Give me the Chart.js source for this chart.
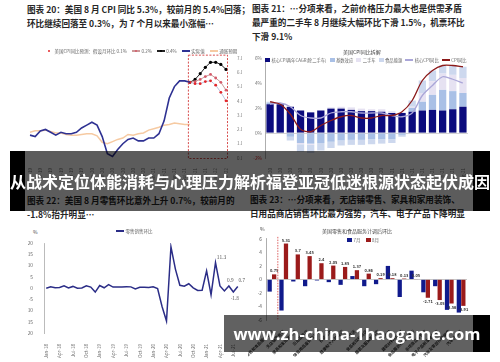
<!DOCTYPE html>
<html>
<head>
<meta charset="utf-8">
<script src="https://cdn.jsdelivr.net/npm/chart.js@4.4.0/dist/chart.umd.min.js"></script>
<style>
body{margin:0;width:500px;height:362px;overflow:hidden;background:#fff;position:relative;font-family:"Noto Sans CJK SC","Noto Sans",sans-serif;}
canvas{position:absolute}
.title{position:absolute;font-size:8.6px;font-weight:700;color:#262626;line-height:14px;white-space:nowrap}
.lg{position:absolute;font-size:4.5px;color:#666;white-space:nowrap;display:flex;align-items:center;line-height:6px}
.lg span.it{display:flex;align-items:center;margin-right:5px}
.sq{display:inline-block;width:5px;height:3.5px;margin-right:1.5px}
.ln{display:inline-block;width:8px;height:1.2px;margin-right:1.5px;position:relative}
.dt{position:absolute;left:2.8px;top:-0.9px;width:2.4px;height:2.4px;border-radius:50%}
.ctitle{position:absolute;font-size:5px;color:#444;white-space:nowrap}
.band{position:absolute}
</style>
</head>
<body>

<div class="title" style="left:27px;top:2px">图表 20：美国 8 月 CPI 同比 5.3%，较前月的 5.4%回落；<br>环比继续回落至 0.3%，为 7 个月以来最小涨幅…</div>
<div class="title" style="left:252px;top:1px">图表 21：…分项来看，之前价格压力最大也是供需矛盾<br>最严重的二手车 8 月继续大幅环比下滑 1.5%，机票环比<br>下滑 9.1%</div>
<div class="title" style="left:27px;top:193px">图表 22：美国 8 月零售环比意外上升 0.7%，较前月的<br>-1.8%抬升明显…</div>
<div class="title" style="left:250px;top:192px">图表 23：…分项来看，无店铺零售、家具和家用装饰、<br>日用品商店销售环比最为强势，汽车、电子产品下降明显</div>

<canvas id="c20" width="218" height="130" style="left:26px;top:50px"></canvas>
<canvas id="c21" width="222" height="128" style="left:250px;top:50px"></canvas>
<canvas id="c22" width="222" height="124" style="left:24px;top:236px"></canvas>
<canvas id="c23" width="224" height="128" style="left:248px;top:232px"></canvas>

<div class="lg" style="left:45px;top:48px">
  <span class="it"><span class="ln" style="background:transparent"><span class="dt" style="background:#e3262a"></span></span>美国CPI同比预测：假设月环比 0.1%</span>
  <span class="it"><span class="ln" style="background:#c99"><span class="dt" style="background:#d45a6a"></span></span>0.2%</span>
  <span class="it"><span class="ln" style="background:#222"><span class="dt" style="background:#000"></span></span>0.4%</span>
  <span class="it"><span class="ln" style="background:#2e3192;height:1.5px"></span>实际值</span>
  <span class="it"><span class="ln" style="background:#f6caa2;height:1.5px"></span>通胀预期</span>
</div>

<div class="ctitle" style="left:343px;top:48px">美国CPI同比拆解</div>
<div class="lg" style="left:265px;top:57px;font-size:4.3px">
  <span class="it" style="margin-right:3px"><span class="sq" style="background:#0b0b7d"></span>核心CPI两年CAGR(除二手车)</span>
  <span class="it" style="margin-right:3px"><span class="sq" style="background:#a9c0e6"></span>基数效应</span>
  <span class="it" style="margin-right:3px"><span class="sq" style="background:#e6e2f2"></span>二手车</span>
  <span class="it" style="margin-right:3px"><span class="sq" style="background:#cdd8ee"></span>食品能源</span>
  <span class="it" style="margin-right:3px"><span class="ln" style="background:#aaa6d8"></span>核心CPI同比</span>
  <span class="it" style="margin-right:0"><span class="ln" style="background:#8b1a1a"></span>CPI同比</span>
</div>

<div class="ctitle" style="left:33px;top:228px">%</div>
<div class="lg" style="left:116px;top:228px"><span class="it"><span class="ln" style="background:#2b2d87;height:1.5px"></span>零售销售环比</span></div>

<div class="ctitle" style="left:260px;top:225px">%</div>
<div class="ctitle" style="left:322px;top:227px">美国零售和食品服务计调后环比</div>
<div class="lg" style="left:347px;top:237px">
  <span class="it"><span class="sq" style="background:#101a8c"></span>7月</span>
  <span class="it"><span class="sq" style="background:#9b1b1b"></span>8月</span>
</div>

<div class="band" style="left:10px;top:151px;width:15px;height:60px;background:#000"></div>
<div class="band" style="left:25px;top:151px;width:448px;height:60px;background:rgba(0,0,0,0.64)"></div>
<div class="band" style="left:473px;top:151px;width:17px;height:60px;background:#000"></div>
<div class="band" style="left:10px;top:151px;width:480px;height:60px;color:#fff;font-size:16px;font-weight:700;line-height:60px;text-align:center;white-space:nowrap;letter-spacing:0">从战术定位体能消耗与心理压力解析福登亚冠低迷根源状态起伏成因</div>

<div class="band" style="left:224px;top:315px;width:249px;height:37px;background:rgba(0,0,0,0.62)"></div>
<div class="band" style="left:473px;top:315px;width:17px;height:37px;background:#000"></div>
<div class="band" style="left:224px;top:315px;width:266px;height:37px;color:#fff;font-family:'Open Sans',sans-serif;font-size:16.5px;font-weight:700;line-height:37px;text-align:center;white-space:nowrap">www.zh-china-1haogame.com</div>

<script>
// ---------- 图表 20 ----------
const months20 = ['Jan-19','Feb-19','Mar-19','Apr-19','May-19','Jun-19','Jul-19','Aug-19','Sep-19','Oct-19','Nov-19','Dec-19',
  'Jan-20','Feb-20','Mar-20','Apr-20','May-20','Jun-20','Jul-20','Aug-20','Sep-20','Oct-20','Nov-20','Dec-20',
  'Jan-21','Feb-21','Mar-21','Apr-21','May-21','Jun-21','Jul-21','Aug-21','Sep-21','Oct-21','Nov-21','Dec-21',
  'Jan-22','Feb-22','Mar-22'];
const cpiActual = [1.6,1.5,1.9,2.0,1.8,1.6,1.8,1.7,1.7,1.8,2.1,2.3,
  2.5,2.3,1.5,0.3,0.1,0.6,1.0,1.3,1.4,1.2,1.2,1.4,
  1.4,1.7,2.6,4.2,5.0,5.4,5.4,5.3];
const breakeven = [1.8,1.9,1.9,1.95,1.85,1.75,1.75,1.65,1.6,1.6,1.65,1.7,
  1.7,1.55,1.1,1.0,1.15,1.3,1.4,1.65,1.6,1.7,1.75,1.95,
  2.05,2.15,2.3,2.35,2.45,2.4,2.35,2.35];
const fcst01 = [5.3,5.2,5.2,5.35,5.4,5.1,4.6,4.0];
const fcst02 = [5.3,5.35,5.5,5.7,5.85,5.6,5.3,4.75];
const fcst04 = [5.3,5.5,5.9,6.35,6.7,6.7,6.55,6.2];

// ---------- 图表 21 ----------
const months21 = ['Jan-20','Feb-20','Mar-20','Apr-20','May-20','Jun-20','Jul-20','Aug-20','Sep-20','Oct-20','Nov-20','Dec-20',
  'Jan-21','Feb-21','Mar-21','Apr-21','May-21','Jun-21','Jul-21','Aug-21'];
const core2y = [2.3,2.3,2.1,1.8,1.65,1.8,1.95,1.95,1.85,1.75,1.75,1.7,1.6,1.6,1.7,1.8,1.85,1.8,1.9,2.1];
const baseEff = [0.1,0,-0.3,-0.8,-0.85,-0.8,-0.7,-0.6,-0.55,-0.55,-0.5,-0.5,-0.5,-0.15,0.3,0.7,1.2,1.65,1.45,1.1];
const usedCar = [0,0,0,-0.1,-0.1,0,0.1,0.15,0.2,0.2,0.15,0.2,0.15,0.05,0.1,0.7,1.1,1.3,1.3,1.2];
const foodEnergy = [0.1,0,-0.3,-0.6,-0.65,-0.6,-0.5,-0.4,-0.4,-0.4,-0.4,-0.35,-0.3,-0.15,0.5,1.0,0.85,0.65,0.75,0.9];
const coreYoY = [2.3,2.4,2.1,1.4,1.2,1.2,1.6,1.7,1.7,1.6,1.6,1.6,1.4,1.3,1.6,3.0,3.8,4.5,4.3,4.0];
const cpiYoY = [2.5,2.3,1.5,0.3,0.1,0.6,1.0,1.3,1.4,1.2,1.2,1.4,1.4,1.7,2.6,4.2,5.0,5.4,5.4,5.3];

// ---------- 图表 22 ----------
const months22 = ['Jan-18','Feb-18','Mar-18','Apr-18','May-18','Jun-18','Jul-18','Aug-18','Sep-18','Oct-18','Nov-18','Dec-18',
  'Jan-19','Feb-19','Mar-19','Apr-19','May-19','Jun-19','Jul-19','Aug-19','Sep-19','Oct-19','Nov-19','Dec-19',
  'Jan-20','Feb-20','Mar-20','Apr-20','May-20','Jun-20','Jul-20','Aug-20','Sep-20','Oct-20','Nov-20','Dec-20',
  'Jan-21','Feb-21','Mar-21','Apr-21','May-21','Jun-21','Jul-21','Aug-21'];
const retailMoM = [-0.1,0.5,0.1,0.2,1.0,0.0,0.7,-0.1,0.0,1.0,0.4,-1.8,
  1.1,0.1,1.5,0.4,0.4,0.4,0.6,0.5,-0.4,0.3,0.3,0.2,
  0.5,-0.3,-8.2,-14.7,18.3,8.4,1.2,0.8,1.9,0.1,-1.1,-1.0,
  7.6,-3.0,11.3,0.9,-1.3,0.9,-1.8,0.7];
const labelled22 = [38,41,42,43];

// ---------- 图表 23 ----------
const cats23 = ['零售和食品服务总计','无店铺零售商','家具和家用装饰店','日用品商店','体育用品爱好和书店','百货商店',
  '健康和个人护理店','杂货店','食品和饮料商店','服装及服装配饰店','加油站','建筑材料和园艺','食品服务和饮酒场所',
  '杂项商店零售商','电子产品和家电商店','汽车及零部件经销商','汽车经销商'];
const jul23 = [-1.8,-4.6,-0.3,-1.0,-0.15,-0.4,-0.8,0.5,-1.0,-0.7,2.0,-2.6,1.3,-1.9,-1.0,-4.5,-4.9];
const aug23 = [0.75,5.31,3.7,3.45,2.4,2.05,1.85,1.37,0.86,0.19,0.18,0.13,0.05,-2.71,-3.05,-3.56,-3.91];

Chart.defaults.font.family = '"Noto Sans CJK SC","Noto Sans",sans-serif';
Chart.defaults.animation = false;
Chart.defaults.plugins.legend.display = false;
Chart.defaults.plugins.tooltip.enabled = false;

function padFront(arr, n) { return new Array(n).fill(null).concat(arr); }
function noPad(s) { s.paddingLeft = 0; s.paddingRight = 0; }

// 图表 20
const fcStart = cpiActual.length - 1;
new Chart(document.getElementById('c20'), {
  type: 'line',
  data: {
    labels: months20,
    datasets: [
      { data: cpiActual, borderColor: '#2e3192', borderWidth: 1.6, pointRadius: 0, tension: 0 },
      { data: breakeven, borderColor: '#f6caa2', borderWidth: 1.5, pointRadius: 0, tension: 0 },
      { data: padFront(fcst01, fcStart), borderColor: '#bcc3e0', borderWidth: 1, pointRadius: 1.4, pointBackgroundColor: '#e3262a', pointBorderWidth: 0 },
      { data: padFront(fcst02, fcStart), borderColor: '#c99a9a', borderWidth: 1, pointRadius: 1.4, pointBackgroundColor: '#d45a6a', pointBorderWidth: 0 },
      { data: padFront(fcst04, fcStart), borderColor: '#222', borderWidth: 1, pointRadius: 1.6, pointBackgroundColor: '#000', pointBorderWidth: 0 }
    ]
  },
  options: {
    responsive: false,
    layout: { padding: { top: 8, left: 4, right: 2, bottom: 0 } },
    scales: {
      x: {
        grid: { display: false }, border: { display: false },
        ticks: { autoSkip: false, maxRotation: 90, minRotation: 90, font: { size: 4.5 }, color: '#777', padding: 2,
          callback: (v, i) => i % 2 === 0 ? months20[i] : '' },
        afterFit: s => { s.height = 22; noPad(s); }
      },
      y: {
        position: 'right', min: 0, max: 7,
        grid: { display: false }, border: { display: false },
        ticks: { stepSize: 1, font: { size: 4.5 }, color: '#777', padding: 3, callback: v => v.toFixed(1) + '%' },
        afterFit: s => { s.width = 16; }
      }
    }
  },
  plugins: [{
    id: 'box20',
    afterDatasetsDraw(chart) {
      const { ctx, scales: { x, y }, chartArea } = chart;
      const x0 = x.getPixelForValue(fcStart) - 1.5, x1 = chartArea.right + 1.5;
      const y0 = y.getPixelForValue(7.2), y1 = chartArea.bottom + 0.5;
      ctx.save();
      ctx.strokeStyle = '#d43a3a'; ctx.lineWidth = 0.9; ctx.setLineDash([2, 1.5]);
      ctx.strokeRect(x0, y0, x1 - x0, y1 - y0);
      ctx.restore();
    }
  }]
});

// 图表 21
new Chart(document.getElementById('c21'), {
  type: 'bar',
  data: {
    labels: months21,
    datasets: [
      { type: 'line', data: cpiYoY, borderColor: '#8b1a1a', borderWidth: 1.3, pointRadius: 0, stack: 'l1', order: 0, tension: 0.3 },
      { type: 'line', data: coreYoY, borderColor: '#aaa6d8', borderWidth: 1.3, pointRadius: 0, stack: 'l2', order: 0, tension: 0.3 },
      { data: core2y, backgroundColor: '#0b0b7d', stack: 'b', order: 1 },
      { data: baseEff, backgroundColor: '#a9c0e6', stack: 'b', order: 1 },
      { data: usedCar, backgroundColor: '#e6e2f2', stack: 'b', order: 1 },
      { data: foodEnergy, backgroundColor: '#cdd8ee', stack: 'b', order: 1 }
    ]
  },
  options: {
    responsive: false,
    layout: { padding: { top: 8, left: 2, right: 4, bottom: 0 } },
    datasets: { bar: { barPercentage: 0.72, categoryPercentage: 1 } },
    scales: {
      x: {
        stacked: true,
        grid: { display: false }, border: { display: false },
        ticks: { autoSkip: false, maxRotation: 90, minRotation: 90, font: { size: 4.5 }, color: '#777', padding: 2 },
        afterFit: s => { s.height = 20; noPad(s); }
      },
      y: {
        stacked: true, min: -2, max: 6,
        grid: { drawTicks: false, color: c => c.tick.value === 0 ? '#c8c8c8' : 'transparent', lineWidth: 0.8 },
        border: { display: true, color: '#999', width: 0.8 },
        ticks: { stepSize: 2, font: { size: 4.8 }, padding: 3, color: c => c.tick.value < 0 ? '#d22' : '#777',
          callback: v => v + '%' },
        afterFit: s => { s.width = 13; }
      }
    }
  }
});

// 图表 22
new Chart(document.getElementById('c22'), {
  type: 'line',
  data: {
    labels: months22,
    datasets: [{ data: retailMoM, borderColor: '#2b2d87', borderWidth: 1.5, pointRadius: 0, tension: 0 }]
  },
  options: {
    responsive: false,
    layout: { padding: { top: 7, left: 4, right: 6, bottom: 0 } },
    scales: {
      x: {
        offset: true,
        grid: { display: false }, border: { display: false },
        ticks: { autoSkip: false, maxRotation: 90, minRotation: 90, font: { size: 4.6 }, color: '#666', padding: 3,
          callback: (v, i) => i % 3 === 0 ? months22[i] : '' },
        afterFit: s => { s.height = 27; noPad(s); }
      },
      y: {
        min: -20, max: 20,
        grid: { display: false },
        border: { display: true, color: '#aaa', width: 0.8 },
        ticks: { stepSize: 5, font: { size: 4.8 }, color: '#666', padding: 3 },
        afterFit: s => { s.width = 16; }
      }
    }
  },
  plugins: [{
    id: 'lab22',
    afterDatasetsDraw(chart) {
      const { ctx } = chart;
      const pts = chart.getDatasetMeta(0).data;
      ctx.save();
      ctx.font = '4.8px "Noto Sans CJK SC"';
      ctx.fillStyle = '#555';
      ctx.textAlign = 'center';
      labelled22.forEach(i => {
        const p = pts[i], v = retailMoM[i];
        const dx = i === 38 ? 6 : (i === 43 ? 4 : 1.5);
        const dy = v < 0 ? 8 : -4;
        ctx.fillText(v.toFixed(1), p.x + dx, p.y + dy);
      });
      ctx.restore();
    }
  }]
});

// 图表 23
new Chart(document.getElementById('c23'), {
  type: 'bar',
  data: {
    labels: cats23,
    datasets: [
      { label: '7月', data: jul23, backgroundColor: '#101a8c' },
      { label: '8月', data: aug23, backgroundColor: '#9b1b1b' }
    ]
  },
  options: {
    responsive: false,
    layout: { padding: { top: 6, left: 4, right: 5, bottom: 0 } },
    datasets: { bar: { barPercentage: 0.95, categoryPercentage: 0.76 } },
    scales: {
      x: {
        grid: { display: false }, border: { display: false },
        ticks: { autoSkip: false, maxRotation: 45, minRotation: 45, font: { size: 4, weight: 'bold' }, color: '#333', padding: 1 },
        afterFit: s => { s.height = 40; noPad(s); }
      },
      y: {
        min: -6, max: 6,
        grid: { drawTicks: false, color: c => c.tick.value === 0 ? '#bbb' : 'transparent', lineWidth: 0.8 },
        border: { display: true, color: '#999', width: 0.8 },
        ticks: { stepSize: 2, font: { size: 4.8 }, color: '#555', padding: 4 },
        afterFit: s => { s.width = 14; }
      }
    }
  },
  plugins: [{
    id: 'lab23',
    afterDatasetsDraw(chart) {
      const { ctx, chartArea, scales: { x } } = chart;
      const bars = chart.getDatasetMeta(1).data;
      ctx.save();
      ctx.font = 'bold 4px "Noto Sans CJK SC"';
      ctx.fillStyle = '#333';
      ctx.textAlign = 'center';
      bars.forEach((b, i) => {
        const v = aug23[i];
        ctx.fillText(String(v), b.x, v >= 0 ? b.y - 2 : b.y + 5);
      });
      const xm = (x.getPixelForValue(0) + x.getPixelForValue(1)) / 2;
      ctx.strokeStyle = '#d43a3a'; ctx.lineWidth = 0.8; ctx.setLineDash([1.5, 1.2]);
      ctx.beginPath(); ctx.moveTo(xm, chartArea.top - 2); ctx.lineTo(xm, chartArea.bottom); ctx.stroke();
      ctx.restore();
    }
  }]
});
</script>
</body>
</html>
